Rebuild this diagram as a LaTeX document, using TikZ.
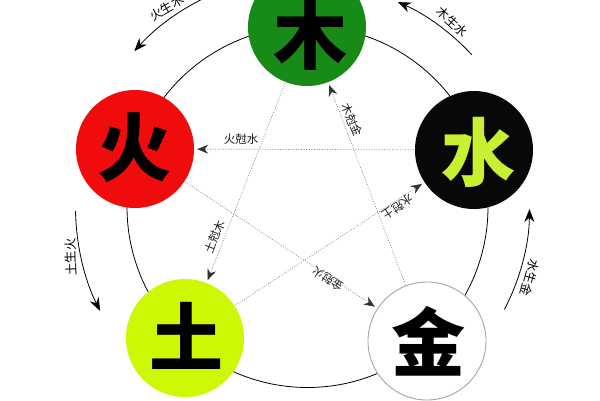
\documentclass[tikz,border=0pt]{standalone}
\usepackage{fontspec}
\newfontfamily\cjk{Noto Sans CJK SC}
\usetikzlibrary{arrows.meta}
\definecolor{woodc}{RGB}{24,138,24}
\definecolor{firec}{RGB}{240,12,12}
\definecolor{waterc}{RGB}{8,8,8}
\definecolor{earthc}{RGB}{205,248,5}
\definecolor{waterchar}{RGB}{200,240,50}
\definecolor{metalline}{RGB}{165,165,165}
\begin{document}
\begin{tikzpicture}[x=1pt,y=1pt,
  elem/.style={circle,minimum size=118pt,inner sep=0pt},
  bigchar/.style={font=\cjk\bfseries\fontsize{74}{74}\selectfont,inner sep=0pt},
  lab/.style={font=\cjk\fontsize{11.5}{11.5}\selectfont,inner sep=0pt,text=black!90},
  olab/.style={font=\cjk\fontsize{12.5}{12.5}\selectfont,inner sep=0pt,text=black},
  ke/.style={black!45, line width=0.7pt, dash pattern=on 1pt off 1.6pt,
     -{Stealth[length=11pt,width=9pt,color=black!80]}, shorten >=3pt, shorten <=1pt},
  sheng/.style={black, line width=0.8pt, -{Stealth[length=13pt,width=10pt]}}]
\useasboundingbox (0,0) rectangle (600,400);
\clip (0,0) rectangle (600,400);
\fill[white] (0,0) rectangle (600,400);
\coordinate (O) at (307.5,193);
\draw[line width=0.8pt] (O) circle[radius=180.5];
% element circles
\node[elem,fill=woodc] (mu) at (307,373) {};
\node[elem,fill=firec] (huo) at (135,251) {};
\node[elem,fill=waterc] (shui) at (474,250) {};
\node[elem,fill=earthc] (tu) at (185,62) {};
\node[elem,fill=white,draw=metalline,line width=0.9pt] (jin) at (427,59) {};
% characters
\node[bigchar] (cmu) at (310,365) {木};
\node[bigchar] (chuo) at (134,252) {火};
\node[bigchar,text=waterchar] (cshui) at (478,248) {水};
\node[bigchar] (ctu) at (186,64) {土};
\node[bigchar] (cjin) at (428,59) {金};
% control lines
\draw[ke] (shui) -- (huo);
\draw[ke] (jin) -- (mu);
\draw[ke] (mu) -- (tu);
\draw[ke] (tu) -- (shui);
\draw[ke] (huo) -- (jin);
\node[lab] (k1) at (241,261) {火尅水};
\node[lab,rotate=69] (k2) at (215,163) {土尅木};
\node[lab,rotate=-68] (k3) at (352,280) {木尅金};
\node[lab,rotate=-146] (k4) at (398,193) {水尅土};
\node[lab,rotate=147] (k5) at (328,121) {金尅火};
% generation arcs
\coordinate (a1) at ([shift={(112:233)}]O);
\coordinate (a2) at ([shift={(42.8:224)}]O);
\coordinate (a3) at ([shift={(181:232)}]O);
\coordinate (a4) at ([shift={(-27.5:222)}]O);
\draw[sheng] (a1) arc[start angle=112,end angle=138,radius=233];
\draw[sheng] (a2) arc[start angle=42.8,end angle=66.2,radius=224];
\draw[sheng] (a3) arc[start angle=181,end angle=206.6,radius=232];
\draw[sheng] (a4) arc[start angle=-27.5,end angle=-0.5,radius=222];
\node[olab,rotate=30] (s1) at (167,392) {火生木};
\node[olab,rotate=-43] (s2) at (452,378) {木生水};
\node[olab,rotate=92] (s3) at (71,143) {土生火};
\node[olab,rotate=-106] (s4) at (530,122) {水生金};
\end{tikzpicture}
\end{document}
